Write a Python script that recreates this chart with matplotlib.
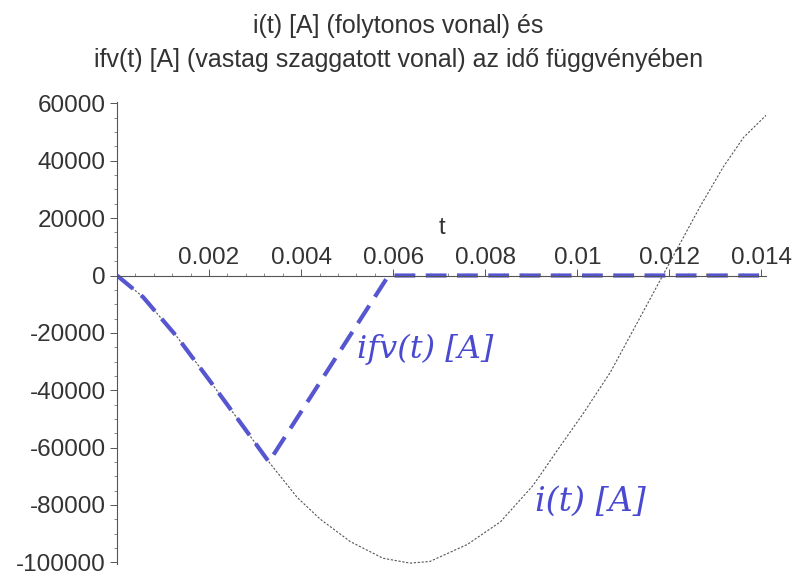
import matplotlib
matplotlib.use('Agg')
import matplotlib.pyplot as plt
from matplotlib.ticker import MultipleLocator, FixedLocator

plt.rcParams['font.family'] = ['Liberation Sans', 'DejaVu Sans']

# i(t) [A]
t_i = [0, 0.000565, 0.0013, 0.00202, 0.00274, 0.0033, 0.00391, 0.00441, 0.00507,
       0.00578, 0.00637, 0.0068, 0.00761, 0.00833, 0.00904, 0.00963, 0.01013,
       0.01072, 0.01122, 0.0118, 0.01217, 0.01267, 0.01317, 0.01361, 0.01411]
i_vals = [0, -7500, -21300, -36800, -52600, -65000, -77300, -84900, -92800,
          -98600, -100300, -99700, -93800, -85900, -73200, -59500, -48100,
          -33700, -18900, -1700, 9300, 24100, 37800, 48100, 56000]

# ifv(t) [A]
t_fv = [0, 0.000565, 0.0013, 0.00202, 0.00274, 0.0033, 0.0059, 0.01411]
ifv_vals = [0, -7500, -21300, -36800, -52600, -65000, 0, 0]

x_ticks = [0.002, 0.004, 0.006, 0.008, 0.010, 0.012, 0.014]
x_labels = ['0.002', '0.004', '0.006', '0.008', '0.01', '0.012', '0.014']
y_ticks = [-100000, -80000, -60000, -40000, -20000, 0, 20000, 40000, 60000]

fig = plt.figure(figsize=(7.97, 5.76), dpi=100)
ax = fig.add_axes([117 / 797, 12 / 576, 649 / 797, 462 / 576])

ax.plot(t_i, i_vals, color='#555555', lw=0.8, linestyle=(0, (2, 1.5)))
ax.plot(t_fv, ifv_vals, color='#5656d0', lw=3, linestyle=(0, (5, 2.5)))

ax.set_xlim(0, 0.0141)
ax.set_ylim(-100600, 60500)

# Maple style axes crossing at origin, x labels above the axis
ax.spines['right'].set_visible(False)
ax.spines['bottom'].set_visible(False)
ax.spines['top'].set_position(('data', 0))
ax.spines['left'].set_position(('data', 0))
for s in ['top', 'left']:
    ax.spines[s].set_color('#555555')
    ax.spines[s].set_linewidth(0.8)

ax.xaxis.set_ticks_position('top')
ax.xaxis.set_major_locator(FixedLocator(x_ticks))
ax.set_xticklabels(x_labels)
ax.xaxis.set_minor_locator(MultipleLocator(0.0004))
ax.yaxis.set_major_locator(FixedLocator(y_ticks))
ax.set_yticklabels([str(v) for v in y_ticks])
ax.yaxis.set_minor_locator(MultipleLocator(5000))

ax.tick_params(which='major', length=5, width=0.7, color='#555555',
               labelsize=17.5, labelcolor='#333333')
ax.tick_params(which='minor', length=2.5, width=0.6, color='#777777')
ax.tick_params(axis='x', pad=0)
ax.tick_params(axis='y', pad=3)

ax.xaxis.set_label_position('top')
ax.set_xlabel('t', fontsize=17, color='#333333', labelpad=9)

fig.text(0.5, 1 - 26 / 576, 'i(t) [A] (folytonos vonal) és',
         ha='center', va='center', fontsize=18, color='#333333')
fig.text(0.5, 1 - 60 / 576, 'ifv(t) [A] (vastag szaggatott vonal) az idő függvényében',
         ha='center', va='center', fontsize=18, color='#333333')

# handwritten notes on the scan
ax.text(0.00522, -25800, 'ifv(t) [A]', fontsize=23, color='#4a4ad0',
        family='DejaVu Serif', style='italic', ha='left', va='center')
ax.text(0.00909, -79000, 'i(t) [A]', fontsize=24, color='#4a4ad0',
        family='DejaVu Serif', style='italic', ha='left', va='center')

fig.savefig('out.png', dpi=100)
